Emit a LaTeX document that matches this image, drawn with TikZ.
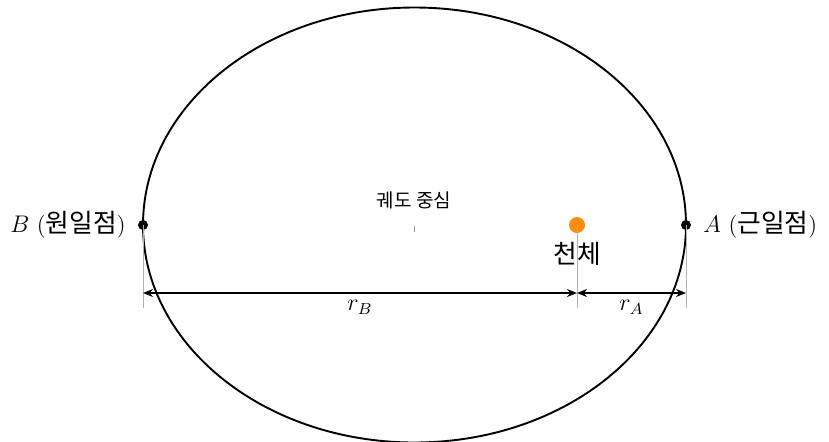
\documentclass[tikz,border=0pt]{standalone}
\usepackage{fontspec}
\newfontfamily\kr[Scale=1.12]{Noto Sans CJK KR}
\usepackage{tikz}
\usetikzlibrary{arrows.meta,positioning}
\definecolor{bodyorange}{RGB}{252,140,22}

\begin{document}
\begin{tikzpicture}[x=0.5pt, y=-0.5pt,
    orbit/.style={draw, line width=0.95pt},
    apsis/.style={circle, fill=black, inner sep=0pt, minimum size=5pt},
    guide/.style={gray!60, line width=0.5pt},
    dimline/.style={line width=0.8pt, {Stealth[length=5pt,width=4pt]}-{Stealth[length=5pt,width=4pt]}},
    lbl/.style={font=\fontsize{11.5}{14}\selectfont},
]
\useasboundingbox (0,0) rectangle (829,441);

\coordinate (ctr) at (414.5,225);
\draw[orbit] (ctr) ellipse [x radius=135.75pt, y radius=108.75pt];

\node[apsis] (B) at (143,225) {};
\node[apsis] (A) at (686,225) {};
\node[circle, fill=bodyorange, inner sep=0pt, minimum size=8pt] (body) at (577,225) {};

\node[lbl, left=2.5pt of B] (Blbl) {$B$ ({\kr 원일점})};
\node[lbl, right=2.5pt of A] (Albl) {$A$ ({\kr 근일점})};
\node[lbl, below=1pt of body] (bodylbl) {\kr 천체};
\node[font=\fontsize{8.5}{10}\selectfont] (ctrlbl) at (414,200) {\kr 궤도 중심};
\draw[gray!80, line width=0.5pt] (414,226) -- (414,232);

% guide lines down to the distances
\coordinate (Bd) at (143,308);
\coordinate (Ad) at (686,308);
\coordinate (bodyd) at (577,308);
\draw[guide] (B.center) -- (Bd);
\draw[guide] (A.center) -- (Ad);
\draw[guide] (body.center) -- (bodyd);

\coordinate (Bm) at (143,293);
\coordinate (Am) at (686,293);
\coordinate (bodym) at (577,293);
\draw[dimline] (Bm) -- node[lbl, below] {$r_B$} (bodym);
\draw[dimline] (bodym) -- node[lbl, below] {$r_A$} (Am);
\end{tikzpicture}
\end{document}
